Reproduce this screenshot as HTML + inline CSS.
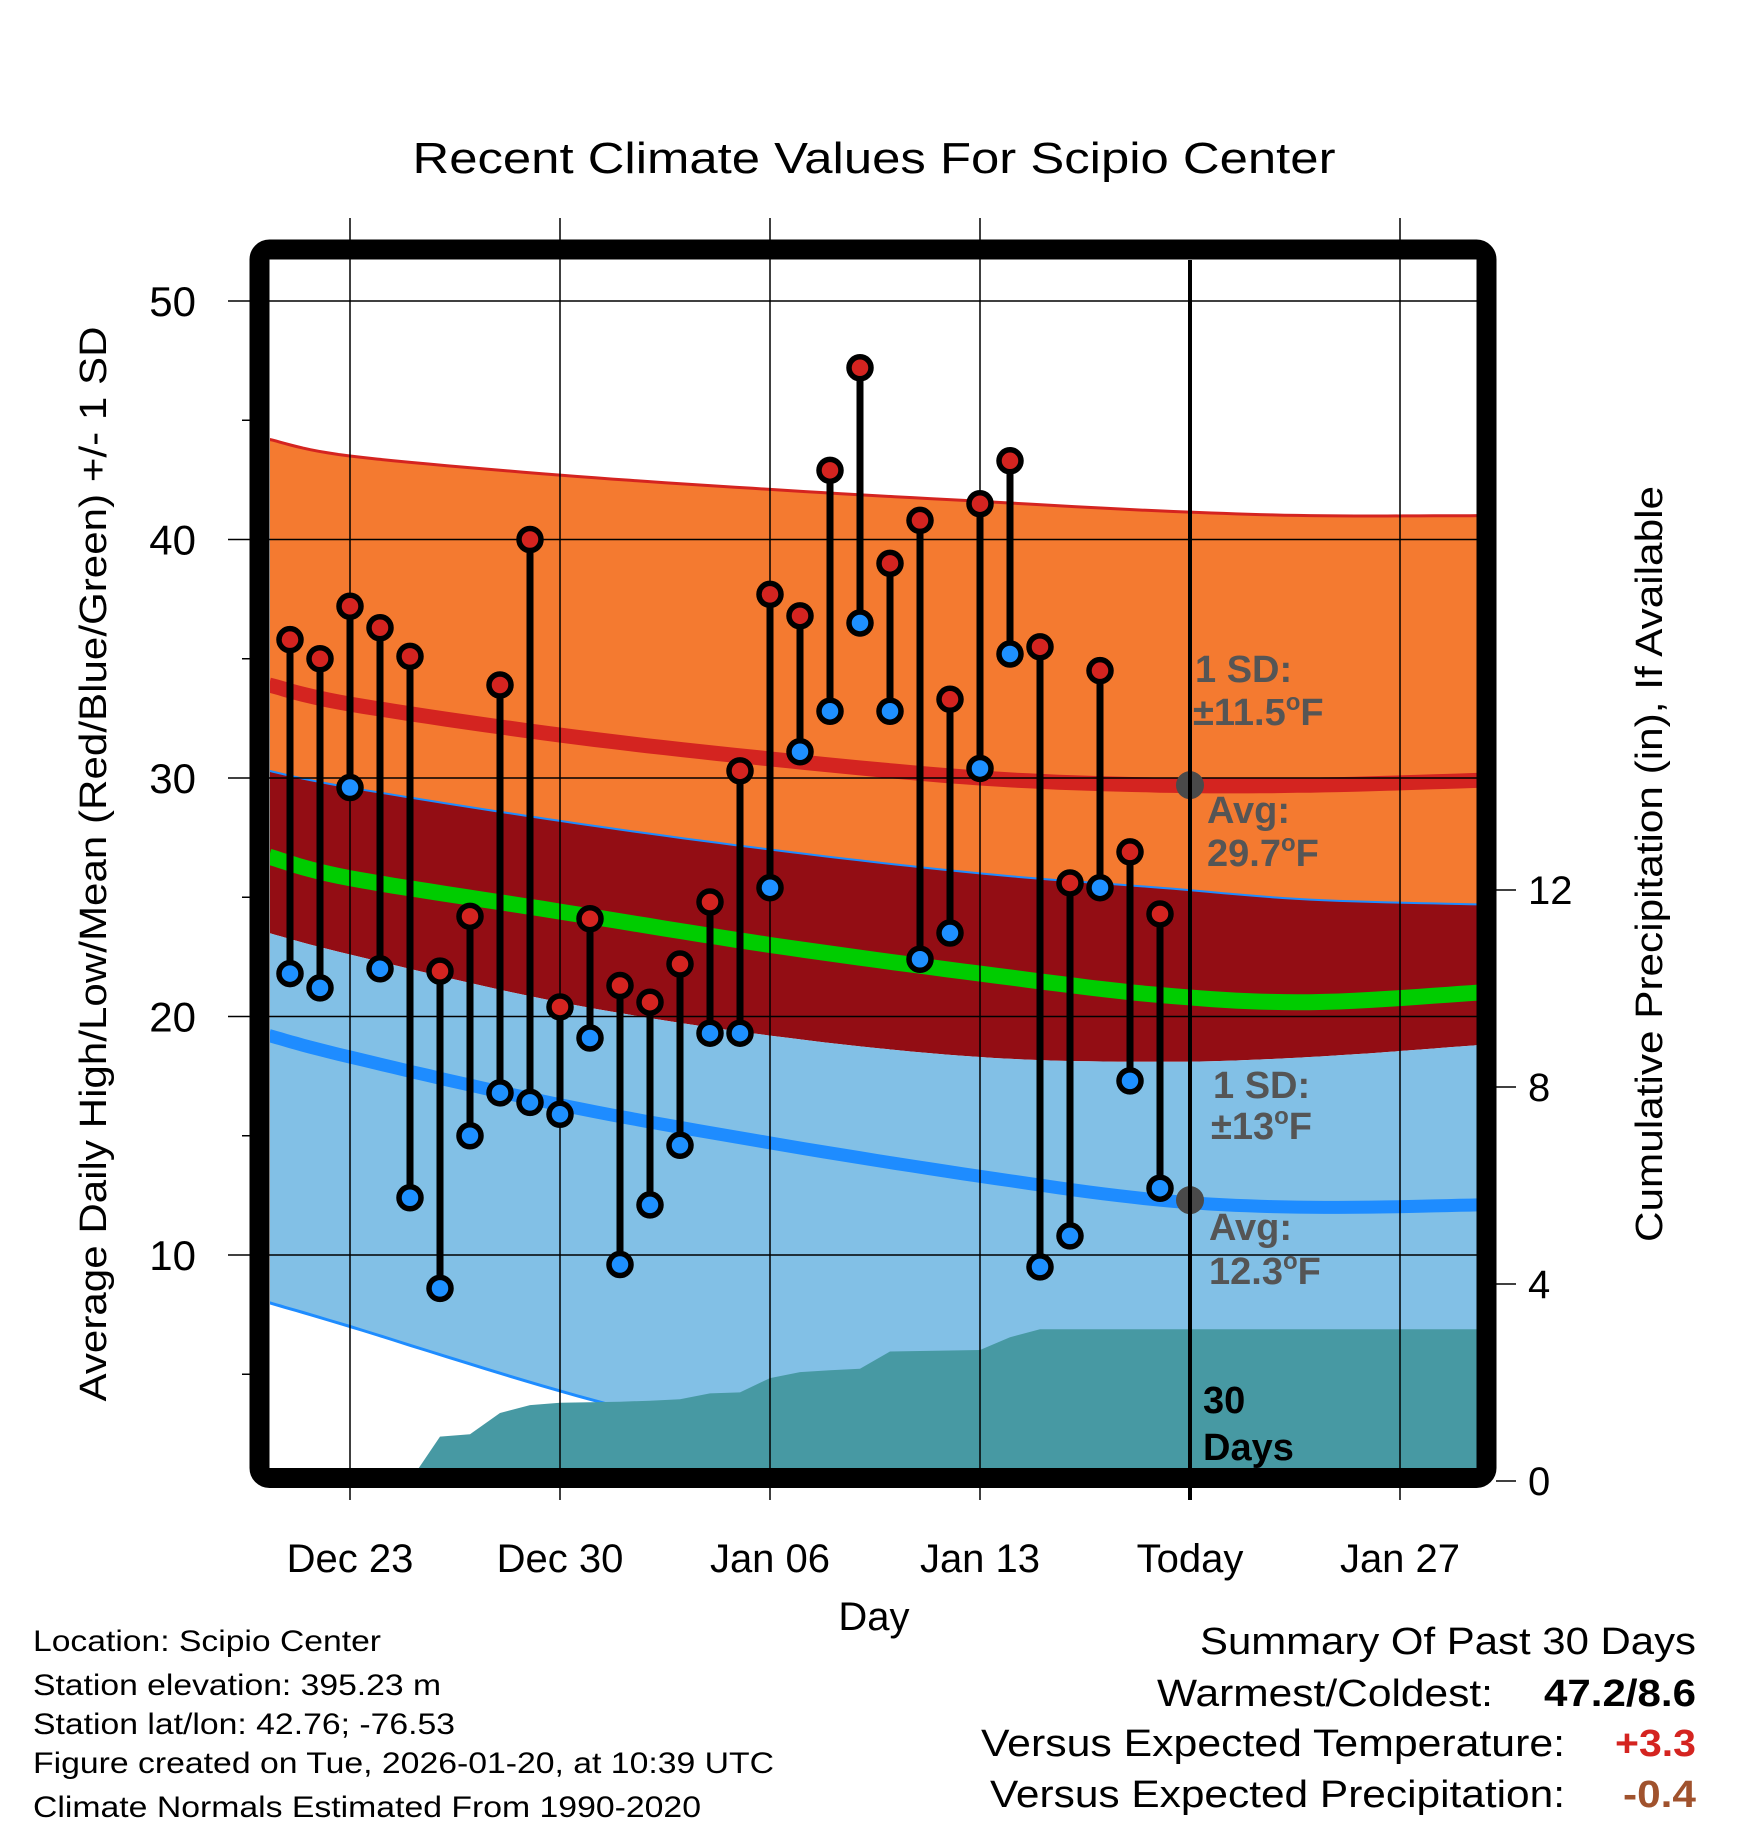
<!DOCTYPE html>
<html><head><meta charset="utf-8"><style>
html,body{margin:0;padding:0;background:#fff;}
svg{display:block;font-family:"Liberation Sans",Arial,sans-serif;}
</style></head><body>
<svg id="chart" xmlns="http://www.w3.org/2000/svg" width="1748" height="1828" viewBox="0 0 1748 1828">
<defs><clipPath id="plotclip"><rect x="270" y="260" width="1208" height="1208"/></clipPath></defs>
<rect width="1748" height="1828" fill="#fff"/>
<text x="874" y="173" font-size="44" text-anchor="middle" textLength="923" lengthAdjust="spacingAndGlyphs">Recent Climate Values For Scipio Center</text>
<g id="plot" clip-path="url(#plotclip)"></g>
<g id="over"></g>
</svg>
<script>
// ---- data ----
const dayLabels = ["Dec 23","Dec 30","Jan 06","Jan 13","Today","Jan 27"];
const dayLabelPos = [2,9,16,23,30,37];
const highs = [35.8,35.0,37.2,36.3,35.1,21.9,24.2,33.9,40.0,20.4,24.1,21.3,20.6,22.2,24.8,30.3,37.7,36.8,42.9,47.2,39.0,40.8,33.3,41.5,43.3,35.5,25.6,34.5,26.9,24.3];
const lows  = [21.8,21.2,29.6,22.0,12.4,8.6,15.0,16.8,16.4,15.9,19.1,9.6,12.1,14.6,19.3,19.3,25.4,31.1,32.8,36.5,32.8,22.4,23.5,30.4,35.2,9.5,10.8,25.4,17.3,12.8];
const normDays  = [-0.7,2,9,16,23,29,34,39.6];
const highUpper = [44.2,43.5,42.7,42.1,41.6,41.2,41.0,41.0];
const highMean  = [33.9,33.1,31.8,30.8,30.0,29.7,29.7,29.9];
const highLower = [30.3,29.6,28.2,27.0,26.0,25.4,24.9,24.7];
const meanLine  = [26.7,25.8,24.4,23.0,21.8,20.9,20.6,21.0];
const lowUpper  = [23.5,22.6,20.6,19.2,18.3,18.1,18.3,18.8];
const lowMean   = [19.2,18.3,16.3,14.7,13.3,12.3,12.0,12.1];
const lowLower  = [8.0,7.0,4.3,2.0,0.0,-0.7,-1.0,-1.0];
const precipDays = [4,5,6,7,8,9,10,11,12,13,14,15,16,17,18,19,20,21,22,23,24,25,26,27,28,29,39.6];
const precipVals = [0,0.90,0.95,1.38,1.54,1.59,1.60,1.61,1.63,1.66,1.78,1.80,2.09,2.21,2.25,2.28,2.63,2.64,2.65,2.66,2.92,3.08,3.08,3.08,3.08,3.08,3.08];
const yTicks = [10,20,30,40,50];
const pTicks = [0,4,8,12];
const todayHigh = 29.7, todayLow = 12.3;

// ---- axes ----
const X = d => 290 + d*30;
const Y = v => 1255 - (v-10)*23.85;
const P = v => 1481 - v*49.25;
const NS = "http://www.w3.org/2000/svg";
const plot = document.getElementById('plot');
const over = document.getElementById('over');
function mk(tag, attrs, parent){ const e=document.createElementNS(NS,tag); for(const k in attrs) e.setAttribute(k,attrs[k]); parent.appendChild(e); return e; }
// smooth Catmull-Rom curve through data points
function smoothPts(arr){
  const pts = normDays.map((d,i)=>[X(d),Y(arr[i])]);
  const out=[];
  for(let i=0;i<pts.length-1;i++){
    const p0=pts[Math.max(i-1,0)], p1=pts[i], p2=pts[i+1], p3=pts[Math.min(i+2,pts.length-1)];
    for(let s=0;s<12;s++){
      const t=s/12, t2=t*t, t3=t2*t;
      const f=(a,b,c,d)=>0.5*((2*b)+(-a+c)*t+(2*a-5*b+4*c-d)*t2+(-a+3*b-3*c+d)*t3);
      out.push([f(p0[0],p1[0],p2[0],p3[0]), f(p0[1],p1[1],p2[1],p3[1])]);
    }
  }
  out.push(pts[pts.length-1]);
  return out;
}
function band(up, lo){ const a=smoothPts(up), b=smoothPts(lo).reverse(); return a.concat(b).map(p=>p[0].toFixed(1)+','+p[1].toFixed(1)).join(' '); }
function line(arr){ return smoothPts(arr).map(p=>p[0].toFixed(1)+','+p[1].toFixed(1)).join(' '); }

let e;
e = mk('polygon',{points:band(highUpper,highLower),fill:'#F47A30'},plot);
 
e = mk('polygon',{points:band(highLower,lowUpper),fill:'#930D14'},plot);
 
e = mk('polygon',{points:band(lowUpper,lowLower),fill:'#82C0E6'},plot);
 
e = mk('polyline',{points:line(highUpper),fill:'none',stroke:'#D42420','stroke-width':3},plot);
 
e = mk('polyline',{points:line(highLower),fill:'none',stroke:'#1E8CFF','stroke-width':2},plot);
 
e = mk('polyline',{points:line(lowLower),fill:'none',stroke:'#1E8CFF','stroke-width':3},plot);
 
e = mk('polyline',{points:line(highMean),fill:'none',stroke:'#D42420','stroke-width':15},plot);
 
e = mk('polyline',{points:line(meanLine),fill:'none',stroke:'#00CC00','stroke-width':16},plot);
 
e = mk('polyline',{points:line(lowMean),fill:'none',stroke:'#1E8CFF','stroke-width':13},plot);
 

// precipitation area
let pp = precipDays.map((d,i)=>X(d)+','+P(precipVals[i]));
pp.push(X(precipDays[precipDays.length-1])+','+P(0)); pp.push(X(precipDays[0])+','+P(0));
e = mk('polygon',{points:pp.join(' '),fill:'#4799A3'},plot);
 

// grid
yTicks.forEach(v=>{
  e = mk('line',{x1:228,x2:1478,y1:Y(v),y2:Y(v),stroke:'#000','stroke-width':1.5},over);
   
  e = mk('text',{x:196,y:Y(v)+15,'font-size':42,'text-anchor':'end'},over); e.textContent=v;
   
  e = mk('line',{x1:242,x2:256,y1:Y(v-5),y2:Y(v-5),stroke:'#000','stroke-width':1.5},over);
   
});
e = mk('line',{x1:242,x2:256,y1:Y(45),y2:Y(45),stroke:'#000','stroke-width':1.5},over);
 
dayLabelPos.forEach((d,i)=>{
  if(dayLabels[i]!=='Today'){
    e = mk('line',{x1:X(d),x2:X(d),y1:218,y2:1500,stroke:'#000','stroke-width':1.5},over);
     
  }
  e = mk('text',{x:X(d),y:1572,'font-size':40,'text-anchor':'middle'},over); e.textContent=dayLabels[i];
   
});
// gray avg dots
e = mk('circle',{cx:X(30),cy:Y(todayHigh),r:14,fill:'#4a4a4a'},over);
 
e = mk('circle',{cx:X(30),cy:Y(todayLow),r:14,fill:'#4a4a4a'},over);
 

// daily bars
highs.forEach((h,i)=>{
  const l=lows[i];
  e = mk('line',{x1:X(i),x2:X(i),y1:Y(h),y2:Y(l),stroke:'#000','stroke-width':7},over);
   
  e = mk('circle',{cx:X(i),cy:Y(h),r:11,fill:'#D42420',stroke:'#000','stroke-width':5.5},over);
   
  e = mk('circle',{cx:X(i),cy:Y(l),r:11,fill:'#1E90FF',stroke:'#000','stroke-width':5.5},over);
   
});
// today line
e = mk('line',{x1:X(30),x2:X(30),y1:260,y2:1500,stroke:'#000','stroke-width':4},over);
 

// annotations
function ann(txt,x,y,fill,name,sup){
  const t = mk('text',{x:x,y:y,'font-size':38,'font-weight':'bold',fill:fill},over);
   
  if(sup){ const parts=txt.split('°');
    t.appendChild(document.createTextNode(parts[0]));
    const s=mk('tspan',{'font-size':24,dy:-15},t); s.textContent='o';
    const f=mk('tspan',{dy:15},t); f.textContent=parts[1];
  } else t.textContent=txt;
}
ann('1 SD:',1195,682,'#555','high-sd-label');
ann('±11.5°F',1193,725,'#555','high-sd-value',true);
ann('Avg:',1207,823,'#555','high-avg-label');
ann('29.7°F',1207,866,'#555','high-avg-value',true);
ann('1 SD:',1213,1098,'#555','low-sd-label');
ann('±13°F',1211,1139,'#555','low-sd-value',true);
ann('Avg:',1209,1240,'#555','low-avg-label');
ann('12.3°F',1209,1284,'#555','low-avg-value',true);
ann('30',1203,1413,'#000','days-count-label');
ann('Days',1203,1460,'#000','days-label');

// frame
e = mk('rect',{x:259.5,y:249.5,width:1227,height:1228.5,rx:10,fill:'none',stroke:'#000','stroke-width':20},over);
 

// right axis
pTicks.forEach(v=>{
  e = mk('line',{x1:1496,x2:1516,y1:P(v),y2:P(v),stroke:'#000','stroke-width':1.5},over);
   
  e = mk('text',{x:1528,y:P(v)+14,'font-size':40},over); e.textContent=v;
   
});
</script>
<svg style="position:absolute;left:0;top:0" width="1748" height="1828" viewBox="0 0 1748 1828">
<g font-family="Liberation Sans, Arial, sans-serif">
<text transform="translate(106,864) rotate(-90)" font-size="38" text-anchor="middle" textLength="1075" lengthAdjust="spacingAndGlyphs">Average Daily High/Low/Mean (Red/Blue/Green) +/- 1 SD</text>
<text transform="translate(1662,864) rotate(-90)" font-size="38" text-anchor="middle" textLength="756" lengthAdjust="spacingAndGlyphs">Cumulative Precipitation (in), If Available</text>
<text x="874" y="1630" font-size="40" text-anchor="middle">Day</text>
<g font-size="30">
<text x="33" y="1651" textLength="348" lengthAdjust="spacingAndGlyphs">Location: Scipio Center</text>
<text x="33" y="1695" textLength="408" lengthAdjust="spacingAndGlyphs">Station elevation: 395.23 m</text>
<text x="33" y="1734" textLength="422" lengthAdjust="spacingAndGlyphs">Station lat/lon: 42.76; -76.53</text>
<text x="33" y="1773" textLength="741" lengthAdjust="spacingAndGlyphs">Figure created on Tue, 2026-01-20, at 10:39 UTC</text>
<text x="33" y="1817" textLength="668" lengthAdjust="spacingAndGlyphs">Climate Normals Estimated From 1990-2020</text>
</g>
<g font-size="38">
<text x="1200" y="1654" textLength="496" lengthAdjust="spacingAndGlyphs">Summary Of Past 30 Days</text>
<text x="1157" y="1706" textLength="336" lengthAdjust="spacingAndGlyphs">Warmest/Coldest:</text>
<text x="1544" y="1706" font-weight="bold" textLength="152" lengthAdjust="spacingAndGlyphs">47.2/8.6</text>
<text x="981" y="1756" textLength="584" lengthAdjust="spacingAndGlyphs">Versus Expected Temperature:</text>
<text x="1615" y="1756" font-weight="bold" fill="#D42420" textLength="81" lengthAdjust="spacingAndGlyphs">+3.3</text>
<text x="990" y="1807" textLength="575" lengthAdjust="spacingAndGlyphs">Versus Expected Precipitation:</text>
<text x="1623" y="1807" font-weight="bold" fill="#A0522D" textLength="73" lengthAdjust="spacingAndGlyphs">-0.4</text>
</g>
</g>
</svg>
</body></html>
